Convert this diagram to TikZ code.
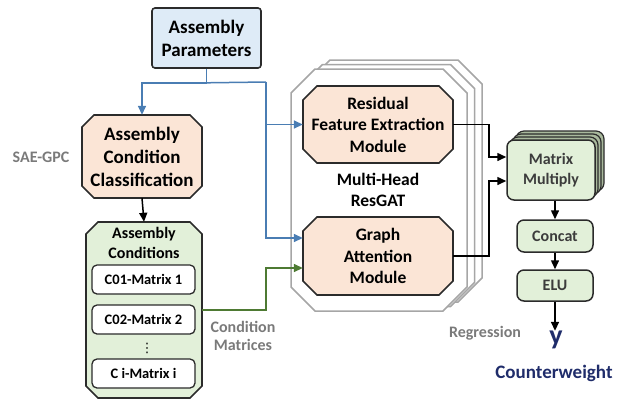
\documentclass[tikz,border=0pt]{standalone}
\usepackage{fontspec}
\setmainfont{Carlito}
\newfontfamily\symfont{DejaVu Sans}
\usetikzlibrary{arrows.meta,calc}

\definecolor{bord}{HTML}{2B2B2B}
\definecolor{peachc}{HTML}{FBE5D6}
\definecolor{bluec}{HTML}{DEEBF7}
\definecolor{greenc}{HTML}{E2F0D9}
\definecolor{greenback}{HTML}{A9B99D}
\definecolor{blueln}{HTML}{4A7DB3}
\definecolor{greenln}{HTML}{4E7A33}
\definecolor{stackln}{HTML}{A6A6A6}
\definecolor{labelgray}{HTML}{7A7A7A}
\definecolor{textgray}{HTML}{3C3C3C}
\definecolor{navy}{HTML}{1F2C6A}

% octagon: name, cx, cy, width, height, chamfer, path style, text style, text
\newcommand\octnode[9]{%
  \path[#7] (#2-#4/2+#6, #3-#5/2) -- (#2+#4/2-#6, #3-#5/2)
    -- (#2+#4/2, #3-#5/2+#6) -- (#2+#4/2, #3+#5/2-#6)
    -- (#2+#4/2-#6, #3+#5/2) -- (#2-#4/2+#6, #3+#5/2)
    -- (#2-#4/2, #3+#5/2-#6) -- (#2-#4/2, #3-#5/2+#6) -- cycle;
  \node[inner sep=0pt, align=center, minimum width=#4pt, minimum height=#5pt, #8] (#1) at (#2,#3) {#9};}

\tikzset{
  octpeach/.style={draw=bord, line width=1.6pt, fill=peachc},
  octgreen/.style={draw=bord, line width=1.6pt, fill=greenc},
  octstack/.style={draw=stackln, line width=1.5pt, fill=white},
  bigtxt/.style={font=\fontsize{19}{23}\selectfont\bfseries},
  midtxt/.style={font=\fontsize{17.5}{21.5}\selectfont\bfseries},
  lbl/.style={font=\fontsize{16}{18.5}\selectfont\bfseries, text=labelgray, align=center},
  itembox/.style={draw=bord, line width=1.3pt, fill=white, rounded corners=5pt,
    minimum width=103pt, minimum height=29pt, inner sep=0pt,
    font=\fontsize{14.5}{17}\selectfont\bfseries},
  opbox/.style={draw=bord, line width=1.5pt, fill=greenc, rounded corners=7pt,
    inner sep=0pt, font=\fontsize{16}{20}\selectfont\bfseries, text=textgray, align=center},
  mmback/.style={draw=bord, line width=1.2pt, fill=greenback, rounded corners=8pt},
  tip/.style={-{Triangle[length=9pt,width=8pt]}},
  blueline/.style={draw=blueln, line width=1.5pt, tip},
  greenline/.style={draw=greenln, line width=1.5pt, tip},
  blackline/.style={draw=black, line width=1.5pt, tip},
}

\begin{document}
\begin{tikzpicture}[x=1pt, y=-1pt]
\useasboundingbox (0,0) rectangle (617,400);

% input parameters
\node[draw=bord, line width=1.6pt, fill=bluec, rounded corners=3pt, bigtxt, align=center,
  minimum width=109pt, minimum height=60pt, inner sep=0pt] (ap) at (206.5,38) {Assembly\\Parameters};

% classification stage
\octnode{acc}{142}{156.5}{120}{83}{12}{octpeach}{bigtxt}{Assembly\\Condition\\Classification}
\node[lbl] (sae) at (41,157) {SAE-GPC};

% condition library
\octnode{ac}{144}{310}{116}{176}{12}{octgreen}{}{}
\node[font=\fontsize{16}{20}\selectfont\bfseries, align=center] (actitle) at (144,243) {Assembly\\Conditions};
\node[itembox] (c1) at (143.5,279.5) {C01-Matrix 1};
\node[itembox] (c2) at (143.5,319.5) {C02-Matrix 2};
\node[font=\fontsize{13}{15}\selectfont\symfont, inner sep=0pt] (cdots) at (147,348) {⋮};
\node[itembox] (ci) at (143.5,373.5) {C i-Matrix i};

% multi-head stack
\octnode{headc}{394}{181}{176}{242}{24}{octstack}{}{}
\octnode{headb}{386.5}{185.5}{176}{242}{24}{octstack}{}{}
\octnode{heada}{379}{190}{176}{242}{24}{octstack}{}{}
\node[midtxt, align=center] (mh) at (378,190) {Multi-Head\\ResGAT};
\octnode{rfe}{378}{124.5}{150}{77}{14}{octpeach}{midtxt}{Residual\\Feature Extraction\\Module}
\octnode{gam}{378}{256}{150}{78}{14}{octpeach}{midtxt}{Graph\\Attention\\Module}

% output head
\draw[mmback] (516,131) rectangle ++(88,60);
\draw[mmback] (513,134) rectangle ++(88,60);
\draw[mmback] (510,137) rectangle ++(88,60);
\node[opbox, minimum width=88pt, minimum height=60pt] (mm) at (551,170) {Matrix\\Multiply};
\node[opbox, minimum width=76pt, minimum height=32pt] (concat) at (555,236) {Concat};
\node[opbox, minimum width=76pt, minimum height=31pt] (elu) at (555,285.5) {ELU};
\node[font=\fontsize{28}{30}\selectfont\bfseries, text=navy, inner sep=0pt] (yout) at (556,340) {y};
\node[font=\fontsize{19}{22}\selectfont\bfseries, text=navy] (cw) at (554,373) {Counterweight};
\node[lbl] (reg) at (485,333) {Regression};
\node[lbl] (cm) at (243,336) {Condition\\Matrices};

% connectors
\coordinate (j1) at ($(ap.south)+(0,14)$);
\coordinate (bx) at (266,82);
\coordinate (kx) at (489,0);
\draw[blueline] (ap.south) -- (j1) -| (acc.north);
\draw[draw=blueln, line width=1.5pt] (j1) -- (bx);
\draw[blueline] (bx) |- (rfe.west);
\draw[blueline] (bx) |- ([yshift=18pt]gam.west);
\draw[greenline] (ac.east) -- (bx |- ac.east) |- ([yshift=-12pt]gam.west);
\draw[blackline] (acc.south) -- (ac.north);
\draw[blackline] (rfe.east) -- (kx |- rfe.east) |- ([yshift=13pt]mm.west);
\draw[blackline] (gam.east) -- (kx |- gam.east) |- ([yshift=-11pt]mm.west);
\draw[blackline] (mm.south -| concat.north) -- (concat.north);
\draw[blackline] (concat.south) -- (elu.north);
\draw[blackline] (elu.south) -- (yout.north -| elu.south);
\end{tikzpicture}
\end{document}
